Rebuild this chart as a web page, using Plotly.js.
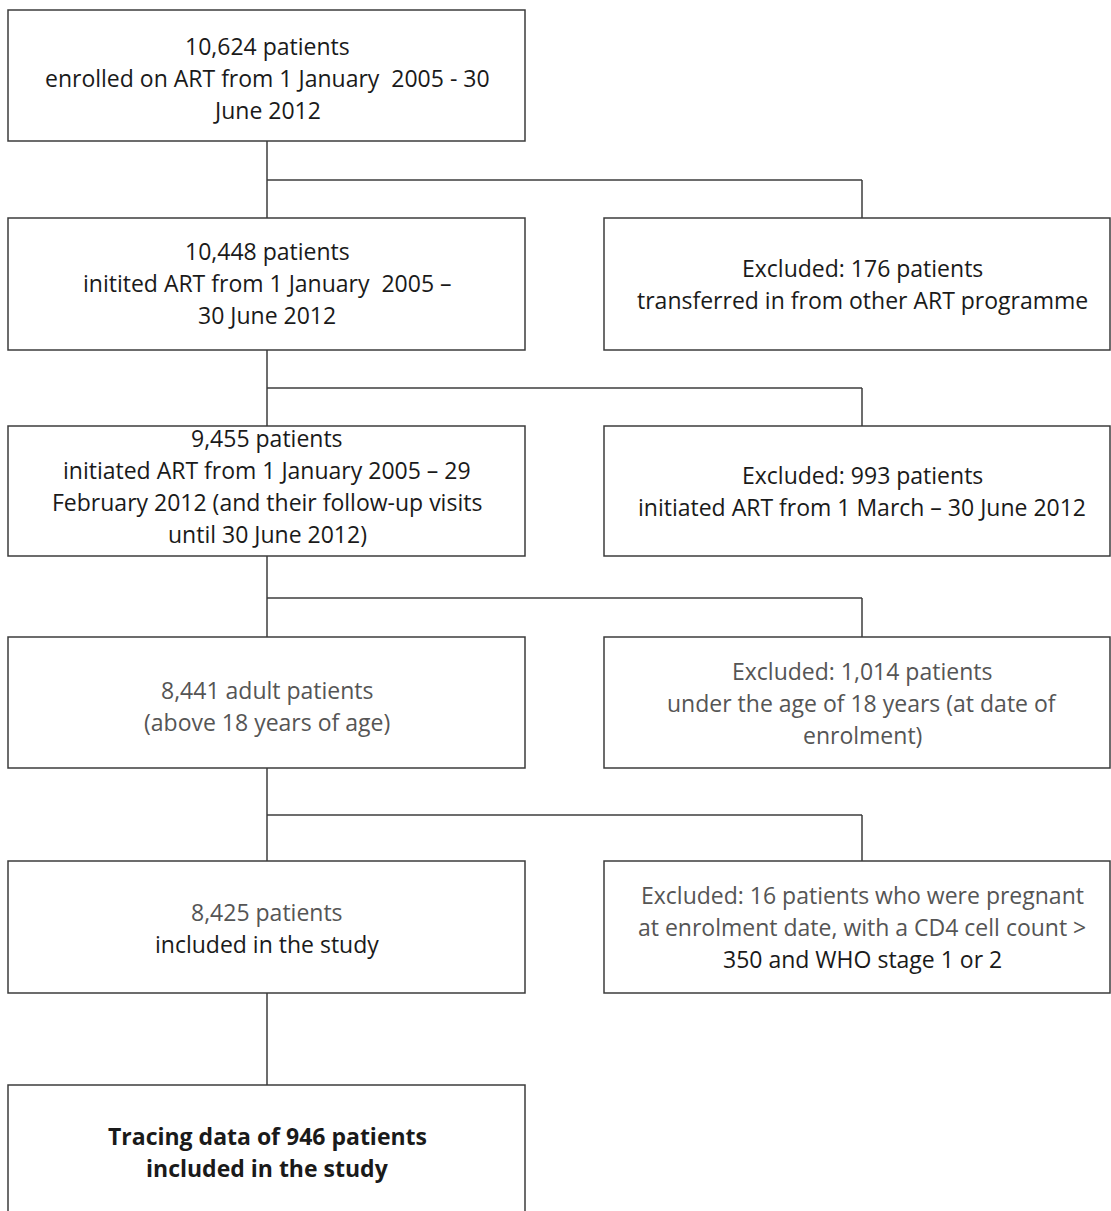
<!DOCTYPE html>
<html><head><meta charset="utf-8">
<script src="https://cdn.plot.ly/plotly-3.0.1.min.js"></script>
<style>html,body{margin:0;padding:0;background:#fff}</style>
</head><body><div id="chart" style="width:1111px;height:1211px"></div>
<script>
// ---- data ----
const mainCounts = ["10,624", "10,448", "9,455", "8,441", "8,425", "946"];
const exclCounts = ["176", "993", "1,014", "16"];
const mainLabels = [
  ["10,624 patients", "enrolled on ART from 1 January  2005 - 30", "June 2012"],
  ["10,448 patients", "initited ART from 1 January  2005 \u2013", "30 June 2012"],
  ["9,455 patients", "initiated ART from 1 January 2005 \u2013 29", "February 2012 (and their follow-up visits", "until 30 June 2012)"],
  ["8,441 adult patients", "(above 18 years of age)"],
  ["8,425 patients", "included in the study"],
  ["Tracing data of 946 patients", "included in the study"]
];
const exclLabels = [
  ["Excluded: 176 patients", "transferred in from other ART programme"],
  ["Excluded: 993 patients", "initiated ART from 1 March \u2013 30 June 2012"],
  ["Excluded: 1,014 patients", "under the age of 18 years (at date of", "enrolment)"],
  ["Excluded: 16 patients who were pregnant", "at enrolment date, with a CD4 cell count >", "350 and WHO stage 1 or 2"]
];

// ---- layout geometry ----
const L = {x0: 8, x1: 525, cx: 267};
const R = {x0: 604, x1: 1110, cx: 862};
const mainBoxes = [[10,141],[218,350],[426,556],[637,768],[861,993],[1085,1230]];
const exclBoxes = [[218,350],[426,556],[637,768],[861,993]];
const branchY = [180, 388, 598, 815];
const lineH = 32;
const font = "'Open Sans', sans-serif";
const fsize = 23;
const ink = "#1a1a1a", grey = "#555555";
const mainColors = [ink, ink, ink, [grey, grey], [grey, ink], ink];
const exclColors = [ink, ink, [grey, grey, grey], [grey, grey, ink]];

const shapes = [], annotations = [];
const lc = "#3c3c3c";
function box(x0,x1,y0,y1){
  shapes.push({type:"rect", xref:"x", yref:"y", x0, x1, y0, y1, line:{color:lc, width:1.5}, fillcolor:"rgba(0,0,0,0)"});
}
function seg(x0,y0,x1,y1){
  shapes.push({type:"line", xref:"x", yref:"y", x0, y0, x1, y1, line:{color:lc, width:1.5}});
}
function text(lines, cx, cy, colors, bold){
  const n = lines.length;
  lines.forEach((t,i)=>{
    const c = Array.isArray(colors) ? colors[i] : colors;
    annotations.push({xref:"x", yref:"y", x: cx, y: cy + (i-(n-1)/2)*lineH,
      text: bold ? "<b>"+t+"</b>" : t, showarrow:false, xanchor:"center", yanchor:"middle",
      font:{family:font, size:fsize, color:c}});
  });
}
const textCY = [78, 283, 486, 706, 928, 1152];
mainBoxes.forEach((b,i)=>{
  box(L.x0, L.x1, b[0], b[1]);
  text(mainLabels[i], L.cx, textCY[i], mainColors[i], i===5);
  if(i < mainBoxes.length-1) seg(L.cx, b[1], L.cx, mainBoxes[i+1][0]);
});
exclBoxes.forEach((b,i)=>{
  box(R.x0, R.x1, b[0], b[1]);
  text(exclLabels[i], R.cx, (b[0]+b[1])/2, exclColors[i], false);
  seg(L.cx, branchY[i], R.cx, branchY[i]);
  seg(R.cx, branchY[i], R.cx, b[0]);
});

Plotly.newPlot("chart", [], {
  width:1111, height:1211, margin:{l:0,r:0,t:0,b:0},
  paper_bgcolor:"#fff", plot_bgcolor:"#fff",
  xaxis:{range:[0,1111], visible:false, fixedrange:true},
  yaxis:{range:[1211,0], visible:false, fixedrange:true},
  shapes, annotations, showlegend:false
}, {displayModeBar:false, staticPlot:true});
</script></body></html>
